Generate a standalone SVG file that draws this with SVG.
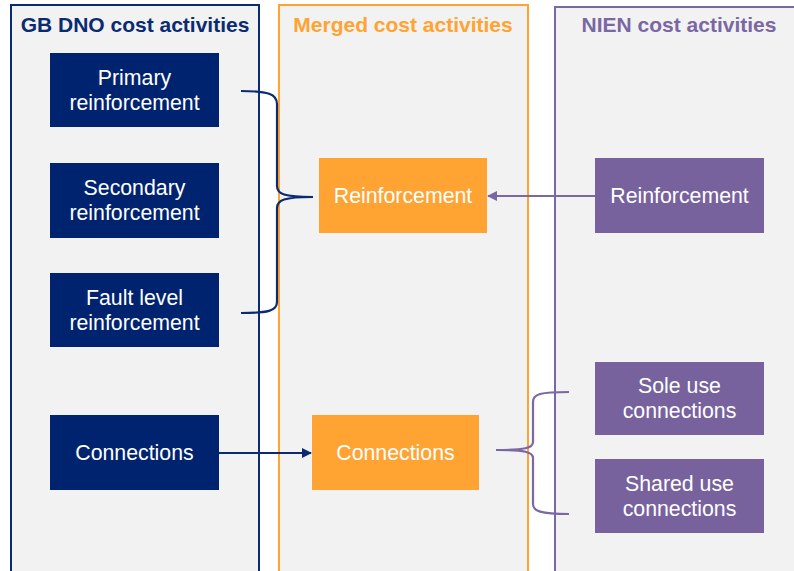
<svg xmlns="http://www.w3.org/2000/svg" width="794" height="571" viewBox="0 0 794 571">
  <defs>
    <style>
      .panel-gb { fill: #F2F2F2; stroke: #0A2A72; stroke-width: 2; }
      .panel-mg { fill: #F2F2F2; stroke: #FFA333; stroke-width: 2; }
      .panel-ni { fill: #F2F2F2; stroke: #7A67A3; stroke-width: 2; }
      .hdr { font-family: "Liberation Sans", Arial, sans-serif; font-weight: bold; font-size: 21px; text-anchor: middle; }
      .lbl { font-family: "Liberation Sans", Arial, sans-serif; font-size: 21.3px; fill: #FFFFFF; text-anchor: middle; }
      .n-gb { fill: #00236F; }
      .n-mg { fill: #FFA333; }
      .n-ni { fill: #77629E; }
      .link { fill: none; stroke-width: 2.2; }
    </style>
    <marker id="ah-blue" markerWidth="10" markerHeight="10" refX="9" refY="5" orient="auto" markerUnits="userSpaceOnUse">
      <path d="M0,0 L10,5 L0,10 Z" fill="#0A2A72"/>
    </marker>
    <marker id="ah-purple" markerWidth="10" markerHeight="10" refX="9" refY="5" orient="auto" markerUnits="userSpaceOnUse">
      <path d="M0,0 L10,5 L0,10 Z" fill="#7A67A3"/>
    </marker>
  </defs>

  <rect x="0" y="0" width="794" height="571" fill="#FFFFFF"/>

  <!-- column panels -->
  <g id="panel-gb">
    <rect class="panel-gb" x="11" y="5" width="248" height="580"/>
    <text class="hdr" x="135" y="32" fill="#0A2A72">GB DNO cost activities</text>
  </g>
  <g id="panel-merged">
    <rect class="panel-mg" x="279" y="5" width="249" height="580"/>
    <text class="hdr" x="403" y="32" fill="#FFA333">Merged cost activities</text>
  </g>
  <g id="panel-nien">
    <rect class="panel-ni" x="555" y="7" width="260" height="580"/>
    <text class="hdr" x="679" y="32" fill="#7A67A3">NIEN cost activities</text>
  </g>

  <!-- connectors -->
  <g id="connectors">
    <path class="link" stroke="#0A2A72" d="M241,91 C268,91 277,94 277,104 L277,186 C277,194 284,197 313,197 C284,197 277,200 277,208 L277,302 C277,311 268,313 241,313"/>
    <path class="link" stroke="#7A67A3" d="M569,392 C540,392 533,394 533,402 L533,442 C533,448 525,450 496,450 C525,450 533,452 533,458 L533,504 C533,511 540,514 569,514"/>
    <line class="link" stroke="#0A2A72" x1="219" y1="453" x2="311" y2="453" marker-end="url(#ah-blue)"/>
    <line class="link" stroke="#7A67A3" x1="595" y1="196" x2="488" y2="196" marker-end="url(#ah-purple)"/>
  </g>

  <!-- GB DNO nodes -->
  <g id="gb-primary">
    <rect class="n-gb" x="50" y="53" width="169" height="74"/>
    <text class="lbl" x="134.5" y="85">Primary</text>
    <text class="lbl" x="134.5" y="110">reinforcement</text>
  </g>
  <g id="gb-secondary">
    <rect class="n-gb" x="50" y="163" width="169" height="75"/>
    <text class="lbl" x="134.5" y="195">Secondary</text>
    <text class="lbl" x="134.5" y="220">reinforcement</text>
  </g>
  <g id="gb-fault">
    <rect class="n-gb" x="50" y="273" width="169" height="74"/>
    <text class="lbl" x="134.5" y="305">Fault level</text>
    <text class="lbl" x="134.5" y="330">reinforcement</text>
  </g>
  <g id="gb-connections">
    <rect class="n-gb" x="50" y="415" width="169" height="75"/>
    <text class="lbl" x="134.5" y="460">Connections</text>
  </g>

  <!-- merged nodes -->
  <g id="mg-reinforcement">
    <rect class="n-mg" x="319" y="158" width="168" height="75"/>
    <text class="lbl" x="403" y="203">Reinforcement</text>
  </g>
  <g id="mg-connections">
    <rect class="n-mg" x="312" y="415" width="167" height="75"/>
    <text class="lbl" x="395.5" y="460">Connections</text>
  </g>

  <!-- NIEN nodes -->
  <g id="ni-reinforcement">
    <rect class="n-ni" x="595" y="158" width="169" height="75"/>
    <text class="lbl" x="679.5" y="203">Reinforcement</text>
  </g>
  <g id="ni-sole">
    <rect class="n-ni" x="595" y="362" width="169" height="73"/>
    <text class="lbl" x="679.5" y="393">Sole use</text>
    <text class="lbl" x="679.5" y="418">connections</text>
  </g>
  <g id="ni-shared">
    <rect class="n-ni" x="595" y="459" width="169" height="74"/>
    <text class="lbl" x="679.5" y="491">Shared use</text>
    <text class="lbl" x="679.5" y="516">connections</text>
  </g>
</svg>
